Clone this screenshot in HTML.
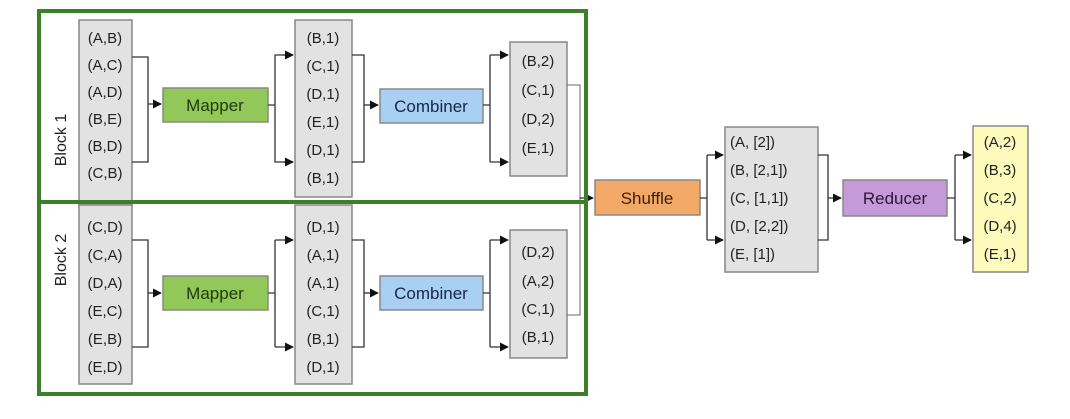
<!DOCTYPE html>
<html><head><meta charset="utf-8"><style>
html,body{margin:0;padding:0;background:#fff;}
svg text{font-family:"Liberation Sans Narrow","Liberation Sans",sans-serif;font-size:15px;fill:#222;}
.c{text-anchor:middle;}
</style></head><body>
<svg width="1070" height="414" viewBox="0 0 1070 414" xmlns="http://www.w3.org/2000/svg">
<defs><marker id="a" viewBox="0 0 10 10" refX="9" refY="5" markerWidth="7" markerHeight="7" orient="auto"><path d="M0,0L10,5L0,10z" fill="#111"/></marker></defs>
<g stroke="#888" stroke-width="1.5">
<rect x="79" y="20" width="53" height="185" fill="#e2e2e2"/>
<rect x="295" y="20" width="57" height="177" fill="#e2e2e2"/>
<rect x="510" y="42" width="57" height="134" fill="#e2e2e2"/>
<rect x="79" y="205" width="53" height="179" fill="#e2e2e2"/>
<rect x="295" y="205" width="57" height="179" fill="#e2e2e2"/>
<rect x="510" y="230" width="57" height="128" fill="#e2e2e2"/>
<rect x="725" y="127" width="93" height="145" fill="#e2e2e2"/>
<rect x="973" y="126" width="55" height="146" fill="#fdfbbc"/>
<rect x="163" y="88" width="105" height="34" fill="#92c857"/>
<rect x="380" y="89" width="103" height="34" fill="#a9cff2"/>
<rect x="163" y="276" width="105" height="34" fill="#92c857"/>
<rect x="380" y="276" width="103" height="34" fill="#a9cff2"/>
<rect x="595" y="180" width="105" height="35" fill="#f2a968"/>
<rect x="843" y="180" width="104" height="36" fill="#c59ad8"/>
</g>
<g fill="none" stroke="#333" stroke-width="1.3">
<path d="M132,57H148V162H132"/><path d="M148,104H161" marker-end="url(#a)"/>
<path d="M268,105H275M293,55H275V162H293" /><path d="M283,55H293" marker-end="url(#a)"/><path d="M283,162H293" marker-end="url(#a)"/>
<path d="M352,55H364V162H352"/><path d="M364,105H378" marker-end="url(#a)"/>
<path d="M483,105H490M490,55V162"/><path d="M490,55H508" marker-end="url(#a)"/><path d="M490,162H508" marker-end="url(#a)"/>
<path d="M132,240H148V347H132"/><path d="M148,293H161" marker-end="url(#a)"/>
<path d="M268,293H275M275,240V347"/><path d="M275,240H293" marker-end="url(#a)"/><path d="M275,347H293" marker-end="url(#a)"/>
<path d="M352,240H364V347H352"/><path d="M364,293H378" marker-end="url(#a)"/>
<path d="M483,293H490M490,240V347"/><path d="M490,240H508" marker-end="url(#a)"/><path d="M490,347H508" marker-end="url(#a)"/>
<path d="M567,85H580V315H567" stroke="#888"/><path d="M580,198H593" marker-end="url(#a)"/>
<path d="M700,198H707M707,155V240"/><path d="M707,155H723" marker-end="url(#a)"/><path d="M707,240H723" marker-end="url(#a)"/>
<path d="M818,155H828V240H818"/><path d="M828,198H841" marker-end="url(#a)"/>
<path d="M947,198H955M955,155V240"/><path d="M955,155H971" marker-end="url(#a)"/><path d="M955,240H971" marker-end="url(#a)"/>
</g>
<g fill="none" stroke="#3b7f2a" stroke-width="4">
<rect x="39" y="11" width="547" height="191"/>
<rect x="39" y="202" width="547" height="192"/>
</g>
<g class="c">
<text x="105" y="43">(A,B)</text><text x="105" y="70">(A,C)</text><text x="105" y="97">(A,D)</text><text x="105" y="124">(B,E)</text><text x="105" y="151">(B,D)</text><text x="105" y="178">(C,B)</text>
<text x="323" y="43">(B,1)</text><text x="323" y="71">(C,1)</text><text x="323" y="99">(D,1)</text><text x="323" y="127">(E,1)</text><text x="323" y="155">(D,1)</text><text x="323" y="183">(B,1)</text>
<text x="538" y="66">(B,2)</text><text x="538" y="95">(C,1)</text><text x="538" y="124">(D,2)</text><text x="538" y="153">(E,1)</text>
<text x="105" y="232">(C,D)</text><text x="105" y="260">(C,A)</text><text x="105" y="288">(D,A)</text><text x="105" y="316">(E,C)</text><text x="105" y="344">(E,B)</text><text x="105" y="372">(E,D)</text>
<text x="323" y="232">(D,1)</text><text x="323" y="260">(A,1)</text><text x="323" y="288">(A,1)</text><text x="323" y="316">(C,1)</text><text x="323" y="344">(B,1)</text><text x="323" y="372">(D,1)</text>
<text x="538" y="257">(D,2)</text><text x="538" y="286">(A,2)</text><text x="538" y="314">(C,1)</text><text x="538" y="342">(B,1)</text>
<text x="1000" y="147">(A,2)</text><text x="1000" y="175">(B,3)</text><text x="1000" y="203">(C,2)</text><text x="1000" y="231">(D,4)</text><text x="1000" y="259">(E,1)</text>
<text x="215" y="111" style="font-size:17px;fill:#1d3a10">Mapper</text>
<text x="431" y="112" style="font-size:17px;fill:#14284a">Combiner</text>
<text x="215" y="299" style="font-size:17px;fill:#1d3a10">Mapper</text>
<text x="431" y="299" style="font-size:17px;fill:#14284a">Combiner</text>
<text x="647" y="204" style="font-size:17px;fill:#3a1e08">Shuffle</text>
<text x="895" y="204" style="font-size:17px;fill:#2e1438">Reducer</text>
</g>
<g>
<text x="730" y="147">(A, [2])</text><text x="730" y="175">(B, [2,1])</text><text x="730" y="203">(C, [1,1])</text><text x="730" y="231">(D, [2,2])</text><text x="730" y="259">(E, [1])</text>
</g>
<text class="c" transform="translate(66,140) rotate(-90)" style="font-size:16px">Block 1</text>
<text class="c" transform="translate(66,260) rotate(-90)" style="font-size:16px">Block 2</text>
</svg>
</body></html>
